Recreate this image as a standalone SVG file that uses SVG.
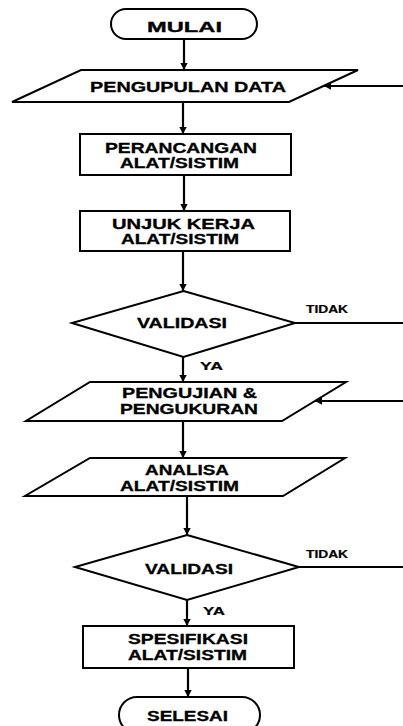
<svg xmlns="http://www.w3.org/2000/svg" width="403" height="726" viewBox="0 0 403 726">
<style>
.s{fill:#fff;stroke:#000;stroke-width:2}
.c{stroke:#000;stroke-width:2.2;fill:none}
.f{stroke:#000;stroke-width:1.8;fill:none}
.t{font-family:"Liberation Sans",Arial,sans-serif;font-weight:bold;font-size:14px;fill:#000;stroke:#000;stroke-width:0.3}
.l{font-family:"Liberation Sans",Arial,sans-serif;font-weight:bold;font-size:11px;fill:#000;stroke:#000;stroke-width:0.2}
</style>
<defs>
<marker id="ah" markerUnits="userSpaceOnUse" markerWidth="9" markerHeight="9" refX="7" refY="4.5" orient="auto">
<path d="M0,0.8 L7,4.5 L0,8.2 z" fill="#000"/>
</marker>
</defs>
<rect width="403" height="726" fill="#fff"/>
<g id="connectors">
<line class="c" x1="184" y1="39" x2="184" y2="70" marker-end="url(#ah)"/>
<line class="c" x1="183" y1="102" x2="183" y2="134" marker-end="url(#ah)"/>
<line class="c" x1="184" y1="175" x2="184" y2="211" marker-end="url(#ah)"/>
<line class="c" x1="183" y1="251" x2="183" y2="291" marker-end="url(#ah)"/>
<line class="c" x1="183" y1="357" x2="183" y2="382" marker-end="url(#ah)"/>
<line class="c" x1="183" y1="421" x2="183" y2="458" marker-end="url(#ah)"/>
<line class="c" x1="187" y1="496" x2="187" y2="535" marker-end="url(#ah)"/>
<line class="c" x1="187" y1="600" x2="187" y2="626" marker-end="url(#ah)"/>
<line class="c" x1="188" y1="668" x2="188" y2="697" marker-end="url(#ah)"/>
<line class="f" x1="403" y1="86" x2="324" y2="86" marker-end="url(#ah)"/>
<line class="f" x1="295" y1="323" x2="403" y2="323"/>
<line class="f" x1="403" y1="401" x2="315" y2="401" marker-end="url(#ah)"/>
<line class="f" x1="299" y1="567" x2="403" y2="567"/>
<text class="l" x="306" y="313" textLength="42" lengthAdjust="spacingAndGlyphs">TIDAK</text>
<text class="l" x="200" y="370" textLength="23" lengthAdjust="spacingAndGlyphs">YA</text>
<text class="l" x="306" y="558" textLength="42" lengthAdjust="spacingAndGlyphs">TIDAK</text>
<text class="l" x="203" y="615" textLength="22" lengthAdjust="spacingAndGlyphs">YA</text>
</g>
<g id="mulai">
<rect class="s" x="111" y="9" width="146" height="30" rx="15"/>
<text class="t" x="147" y="32" textLength="75" lengthAdjust="spacingAndGlyphs">MULAI</text>
</g>
<g id="pengupulan">
<polygon class="s" points="81,70 358,70 289,102 12,102"/>
<text class="t" x="90" y="92" textLength="196" lengthAdjust="spacingAndGlyphs">PENGUPULAN DATA</text>
</g>
<g id="perancangan">
<rect class="s" x="80" y="134" width="211" height="41"/>
<text class="t" x="105" y="153" textLength="152" lengthAdjust="spacingAndGlyphs">PERANCANGAN</text>
<text class="t" x="120" y="168" textLength="119" lengthAdjust="spacingAndGlyphs">ALAT/SISTIM</text>
</g>
<g id="unjuk">
<rect class="s" x="80" y="211" width="210" height="40"/>
<text class="t" x="112" y="229" textLength="143" lengthAdjust="spacingAndGlyphs">UNJUK KERJA</text>
<text class="t" x="121" y="244" textLength="118" lengthAdjust="spacingAndGlyphs">ALAT/SISTIM</text>
</g>
<g id="validasi1">
<polygon class="s" points="183.5,291 295,323 183.5,357 72,323"/>
<text class="t" x="137" y="328" textLength="90" lengthAdjust="spacingAndGlyphs">VALIDASI</text>
</g>
<g id="pengujian">
<polygon class="s" points="90,382 346,382 282,421 26,421"/>
<text class="t" x="122" y="398" textLength="135" lengthAdjust="spacingAndGlyphs">PENGUJIAN &amp;</text>
<text class="t" x="120" y="414" textLength="138" lengthAdjust="spacingAndGlyphs">PENGUKURAN</text>
</g>
<g id="analisa">
<polygon class="s" points="90,458 345,458 283,496 25,496"/>
<text class="t" x="145" y="475" textLength="84" lengthAdjust="spacingAndGlyphs">ANALISA</text>
<text class="t" x="120" y="491" textLength="119" lengthAdjust="spacingAndGlyphs">ALAT/SISTIM</text>
</g>
<g id="validasi2">
<polygon class="s" points="187,535 299,567 187,600 75,567"/>
<text class="t" x="145" y="574" textLength="88" lengthAdjust="spacingAndGlyphs">VALIDASI</text>
</g>
<g id="spesifikasi">
<rect class="s" x="83" y="626" width="211" height="42"/>
<text class="t" x="128" y="644" textLength="120" lengthAdjust="spacingAndGlyphs">SPESIFIKASI</text>
<text class="t" x="128" y="660" textLength="119" lengthAdjust="spacingAndGlyphs">ALAT/SISTIM</text>
</g>
<g id="selesai">
<rect class="s" x="119" y="697" width="141" height="36" rx="18"/>
<text class="t" x="147" y="721" textLength="81" lengthAdjust="spacingAndGlyphs">SELESAI</text>
</g>
</svg>
